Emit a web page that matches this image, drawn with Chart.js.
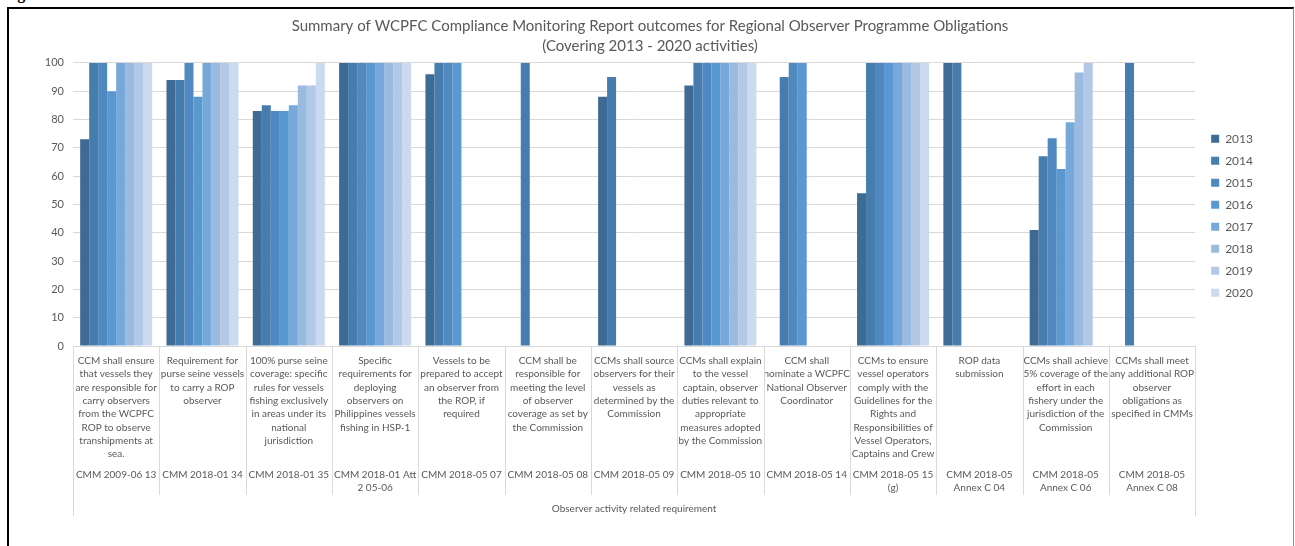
<!DOCTYPE html>
<html>
<head>
<meta charset="utf-8">
<script src="https://cdn.jsdelivr.net/npm/chart.js@4.4.1/dist/chart.umd.min.js"></script>
<style>
  html, body { margin: 0; padding: 0; background: #fff; }
  #wrap { position: relative; width: 1295px; height: 546px; overflow: hidden; }
  #frame { position: absolute; left: 7px; top: 7px; width: 1287px; height: 560px; box-sizing: border-box;
           border-left: 2px solid #000; border-top: 2px solid #000; border-right: 1px solid #8c8c8c; }
  #fig { position: absolute; left: 3px; top: -14px; font: bold 16px "Liberation Serif", serif; line-height: 16px; }
  #chartBox { position: absolute; left: 0; top: 0; width: 1295px; height: 546px; }
</style>
</head>
<body>
<div id="wrap">
  <div id="fig">Figure</div>
  <div id="frame"></div>
  <div id="chartBox"><canvas id="ropChart"></canvas></div>
</div>
<script>
// chart data
const titleLines = [
  "Summary of WCPFC Compliance Monitoring Report outcomes for Regional Observer Programme Obligations",
  "(Covering 2013 - 2020 activities)"
];

const requirements = [
  ["CCM shall ensure", "that vessels they", "are responsible for", "carry observers", "from the WCPFC", "ROP to observe", "transhipments at", "sea."],
  ["Requirement for", "purse seine vessels", "to carry a ROP", "observer"],
  ["100% purse seine", "coverage: specific", "rules for vessels", "fishing exclusively", "in areas under its", "national", "jurisdiction"],
  ["Specific", "requirements for", "deploying", "observers on", "Philippines vessels", "fishing in HSP-1"],
  ["Vessels to be", "prepared to accept", "an observer from", "the ROP, if", "required"],
  ["CCM shall be", "responsible for", "meeting the level", "of observer", "coverage as set by", "the Commission"],
  ["CCMs shall source", "observers for their", "vessels as", "determined by the", "Commission"],
  ["CCMs shall explain", "to the vessel", "captain, observer", "duties relevant to", "appropriate", "measures adopted", "by the Commission"],
  ["CCM shall", "nominate a WCPFC", "National Observer", "Coordinator"],
  ["CCMs to ensure", "vessel operators", "comply with the", "Guidelines for the", "Rights and", "Responsibilities of", "Vessel Operators,", "Captains and Crew"],
  ["ROP data", "submission"],
  ["CCMs shall achieve", "5% coverage of the", "effort in each", "fishery under the", "jurisdiction of the", "Commission"],
  ["CCMs shall meet", "any additional ROP", "observer", "obligations as", "specified in CMMs"]
];

const cmmCodes = [
  ["CMM 2009-06 13"],
  ["CMM 2018-01 34"],
  ["CMM 2018-01 35"],
  ["CMM 2018-01 Att", "2 05-06"],
  ["CMM 2018-05 07"],
  ["CMM 2018-05 08"],
  ["CMM 2018-05 09"],
  ["CMM 2018-05 10"],
  ["CMM 2018-05 14"],
  ["CMM 2018-05 15", "(g)"],
  ["CMM 2018-05", "Annex C 04"],
  ["CMM 2018-05", "Annex C 06"],
  ["CMM 2018-05", "Annex C 08"]
];

const outerLabel = "Observer activity related requirement";

const years = ["2013", "2014", "2015", "2016", "2017", "2018", "2019", "2020"];

const y2013 = [73, 94, 83, 100, 96, null, 88, 92, null, 54, 100, 41, null];
const y2014 = [100, 94, 85, 100, 100, 100, 95, 100, 95, 100, 100, 67, 100];
const y2015 = [100, 100, 83, 100, 100, null, null, 100, 100, 100, null, 73.4, null];
const y2016 = [90, 88, 83, 100, 100, null, null, 100, 100, 100, null, 62.5, null];
const y2017 = [100, 100, 85, 100, null, null, null, 100, null, 100, null, 79, null];
const y2018 = [100, 100, 92, 100, null, null, null, 100, null, 100, null, 96.6, null];
const y2019 = [100, 100, 92, 100, null, null, null, 100, null, 100, null, 100, null];
const y2020 = [100, 100, 100, 100, null, null, null, 100, null, 100, null, null, null];

const yearValues = [y2013, y2014, y2015, y2016, y2017, y2018, y2019, y2020];

const yearColors = ["#3e6b95", "#467cae", "#4f89bf", "#5a98d1", "#76a8da", "#9abae0", "#b3c8e6", "#cbdaee"];

const TEXT = "#595959";
const LINE = "#d9d9d9";

Chart.defaults.font.family = "Lato, 'Open Sans', sans-serif";
Chart.defaults.color = TEXT;

// vertical separators between categories in the label area (like Excel multi-level axis)
const separators = {
  id: "separators",
  afterDraw(chart) {
    const x = chart.scales.x, x2 = chart.scales.x2;
    const ctx = chart.ctx;
    const n = requirements.length;
    const step = x.getPixelForValue(1) - x.getPixelForValue(0);
    const start = x.getPixelForValue(0) - step / 2;
    const top = chart.chartArea.bottom;
    ctx.save();
    ctx.strokeStyle = LINE;
    ctx.lineWidth = 1;
    for (let i = 0; i <= n; i++) {
      const px = Math.round(start + i * step) + 0.5;
      const bottom = (i === 0 || i === n) ? x2.bottom - 3 : x2.top + 34;
      ctx.beginPath();
      ctx.moveTo(px, top);
      ctx.lineTo(px, bottom);
      ctx.stroke();
    }
    ctx.restore();
  }
};

// nudge the legend a bit away from the plot, like the Excel original
const legendGap = {
  id: "legendGap",
  afterLayout(chart) {
    if (!chart.legend) return;
    chart.legend.left += 6;
    chart.legend.right += 6;
  }
};

const el = document.getElementById("ropChart");
new Chart(el, {
  type: "bar",
  data: {
    labels: requirements,
    datasets: years.map((yr, i) => ({
      label: yr,
      data: yearValues[i],
      backgroundColor: yearColors[i],
      borderWidth: 0,
      categoryPercentage: 0.834,
      barPercentage: 1.0
    }))
  },
  options: {
    responsive: true,
    maintainAspectRatio: false,
    animation: false,
    layout: { padding: { left: 43, right: 38, top: 0, bottom: 27 } },
    plugins: {
      title: {
        display: true,
        text: titleLines,
        color: TEXT,
        font: { size: 15, weight: "normal", lineHeight: 1.33 },
        padding: { top: 16, bottom: 7 }
      },
      legend: {
        position: "right",
        fullSize: false,
        title: { display: true, text: "", font: { size: 12 }, padding: 4 },
        labels: { boxWidth: 8, boxHeight: 8, padding: 10, color: TEXT, font: { size: 12 } }
      },
      tooltip: { enabled: false }
    },
    scales: {
      y: {
        min: 0,
        max: 100,
        ticks: { stepSize: 10, padding: 9, color: TEXT, font: { size: 11 } },
        grid: { color: LINE, drawTicks: false },
        border: { display: false },
        afterFit: s => { s.width = 30; }
      },
      x: {
        ticks: { autoSkip: false, maxRotation: 0, minRotation: 0, padding: 8, color: TEXT, font: { size: 10, lineHeight: 1.333 } },
        grid: { drawOnChartArea: false, drawTicks: false },
        border: { color: LINE },
        afterFit: s => { s.height = 115; }
      },
      x2: {
        type: "category",
        labels: cmmCodes,
        position: "bottom",
        offset: true,
        weight: 1,
        ticks: { autoSkip: false, maxRotation: 0, minRotation: 0, padding: 7, color: TEXT, font: { size: 10, lineHeight: 1.333 } },
        grid: { drawOnChartArea: false, drawTicks: false },
        border: { display: false },
        title: { display: true, text: outerLabel, color: TEXT, font: { size: 10 }, padding: { top: 4, bottom: 4 } },
        afterFit: s => { s.height = 58; }
      }
    }
  },
  plugins: [separators, legendGap]
});
</script>
</body>
</html>
